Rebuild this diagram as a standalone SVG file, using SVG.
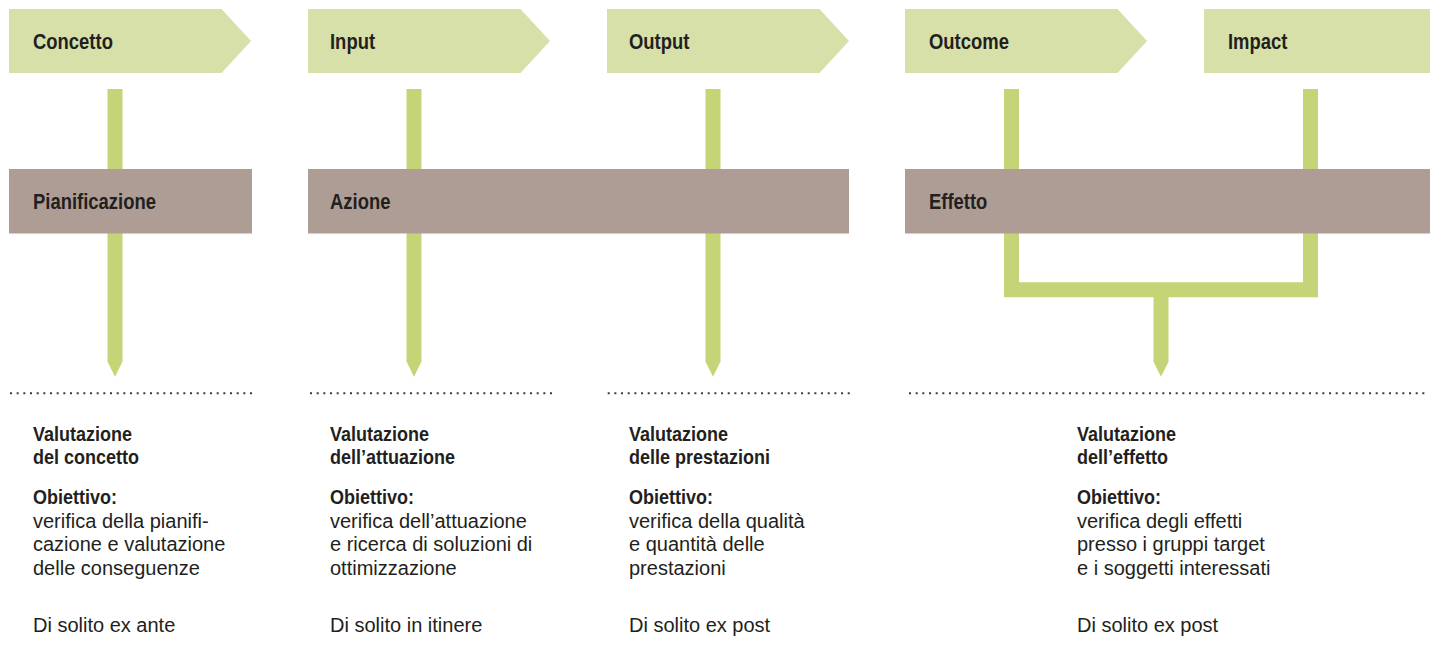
<svg xmlns="http://www.w3.org/2000/svg" width="1437" height="661" viewBox="0 0 1437 661">
<style>
  .stage { fill: #d8e0a9; }
  .band { fill: #ae9d94; }
  .bar { fill: #c5d476; }
  .dots { stroke: #3c3c3c; stroke-width: 2; stroke-dasharray: 2 4.667; fill: none; }
  text { font-family: "Liberation Sans", Arial, sans-serif; fill: #231f20; }
  .lbl { font-size: 22.5px; font-weight: bold; }
  .hd { font-size: 20px; font-weight: bold; }
  .tx { font-size: 20px; }
</style>
<rect width="1437" height="661" fill="#ffffff"/>

<g id="connectors">
  <polygon class="bar" points="107.5,89 122.5,89 122.5,361.5 115,376.7 107.5,361.5"/>
  <polygon class="bar" points="406.5,89 421.5,89 421.5,361.5 414,376.7 406.5,361.5"/>
  <polygon class="bar" points="705.5,89 720.5,89 720.5,361.5 713,376.7 705.5,361.5"/>
  <path class="bar" d="M1004,89 H1019 V282.3 H1303 V89 H1318 V297.3 H1168.5 V361.7 L1161,376.7 L1153.5,361.7 V297.3 H1004 Z"/>
</g>

<g id="stage-concetto">
  <polygon class="stage" points="9,9 221.5,9 251,41 221.5,73 9,73"/>
  <text class="lbl" transform="translate(33,49.3) scale(0.82,1)">Concetto</text>
</g>
<g id="stage-input">
  <polygon class="stage" points="308,9 520.5,9 550,41 520.5,73 308,73"/>
  <text class="lbl" transform="translate(330,49.3) scale(0.82,1)">Input</text>
</g>
<g id="stage-output">
  <polygon class="stage" points="607,9 819.5,9 849,41 819.5,73 607,73"/>
  <text class="lbl" transform="translate(629,49.3) scale(0.82,1)">Output</text>
</g>
<g id="stage-outcome">
  <polygon class="stage" points="905,9 1117.5,9 1147,41 1117.5,73 905,73"/>
  <text class="lbl" transform="translate(929,49.3) scale(0.82,1)">Outcome</text>
</g>
<g id="stage-impact">
  <rect class="stage" x="1204" y="9" width="226" height="64"/>
  <text class="lbl" transform="translate(1228,49.3) scale(0.82,1)">Impact</text>
</g>

<g id="band-pianificazione">
  <rect class="band" x="9" y="169" width="243" height="64.5"/>
  <text class="lbl" transform="translate(33,209.3) scale(0.82,1)">Pianificazione</text>
</g>
<g id="band-azione">
  <rect class="band" x="308" y="169" width="541" height="64.5"/>
  <text class="lbl" transform="translate(330,209.3) scale(0.82,1)">Azione</text>
</g>
<g id="band-effetto">
  <rect class="band" x="905" y="169" width="525" height="64.5"/>
  <text class="lbl" transform="translate(929,209.3) scale(0.82,1)">Effetto</text>
</g>

<g id="separators">
  <line class="dots" x1="10" y1="393.3" x2="254" y2="393.3"/>
  <line class="dots" x1="310" y1="393.3" x2="553" y2="393.3"/>
  <line class="dots" x1="607.7" y1="393.3" x2="852" y2="393.3"/>
  <line class="dots" x1="909" y1="393.3" x2="1427" y2="393.3"/>
</g>

<g id="eval-concetto">
  <text class="hd" transform="translate(33,441) scale(0.9,1)">Valutazione</text>
  <text class="hd" transform="translate(33,464.4) scale(0.9,1)">del concetto</text>
  <text class="hd" transform="translate(33,504.3) scale(0.9,1)">Obiettivo:</text>
  <text class="tx" x="33" y="527.7">verifica della pianifi-</text>
  <text class="tx" x="33" y="551.1">cazione e valutazione</text>
  <text class="tx" x="33" y="574.5">delle conseguenze</text>
  <text class="tx" x="33" y="632.3">Di solito ex ante</text>
</g>
<g id="eval-attuazione">
  <text class="hd" transform="translate(330,441) scale(0.9,1)">Valutazione</text>
  <text class="hd" transform="translate(330,464.4) scale(0.9,1)">dell’attuazione</text>
  <text class="hd" transform="translate(330,504.3) scale(0.9,1)">Obiettivo:</text>
  <text class="tx" x="330" y="527.7">verifica dell’attuazione</text>
  <text class="tx" x="330" y="551.1">e ricerca di soluzioni di</text>
  <text class="tx" x="330" y="574.5">ottimizzazione</text>
  <text class="tx" x="330" y="632.3">Di solito in itinere</text>
</g>
<g id="eval-prestazioni">
  <text class="hd" transform="translate(629,441) scale(0.9,1)">Valutazione</text>
  <text class="hd" transform="translate(629,464.4) scale(0.9,1)">delle prestazioni</text>
  <text class="hd" transform="translate(629,504.3) scale(0.9,1)">Obiettivo:</text>
  <text class="tx" x="629" y="527.7">verifica della qualità</text>
  <text class="tx" x="629" y="551.1">e quantità delle</text>
  <text class="tx" x="629" y="574.5">prestazioni</text>
  <text class="tx" x="629" y="632.3">Di solito ex post</text>
</g>
<g id="eval-effetto">
  <text class="hd" transform="translate(1077,441) scale(0.9,1)">Valutazione</text>
  <text class="hd" transform="translate(1077,464.4) scale(0.9,1)">dell’effetto</text>
  <text class="hd" transform="translate(1077,504.3) scale(0.9,1)">Obiettivo:</text>
  <text class="tx" x="1077" y="527.7">verifica degli effetti</text>
  <text class="tx" x="1077" y="551.1">presso i gruppi target</text>
  <text class="tx" x="1077" y="574.5">e i soggetti interessati</text>
  <text class="tx" x="1077" y="632.3">Di solito ex post</text>
</g>
</svg>
